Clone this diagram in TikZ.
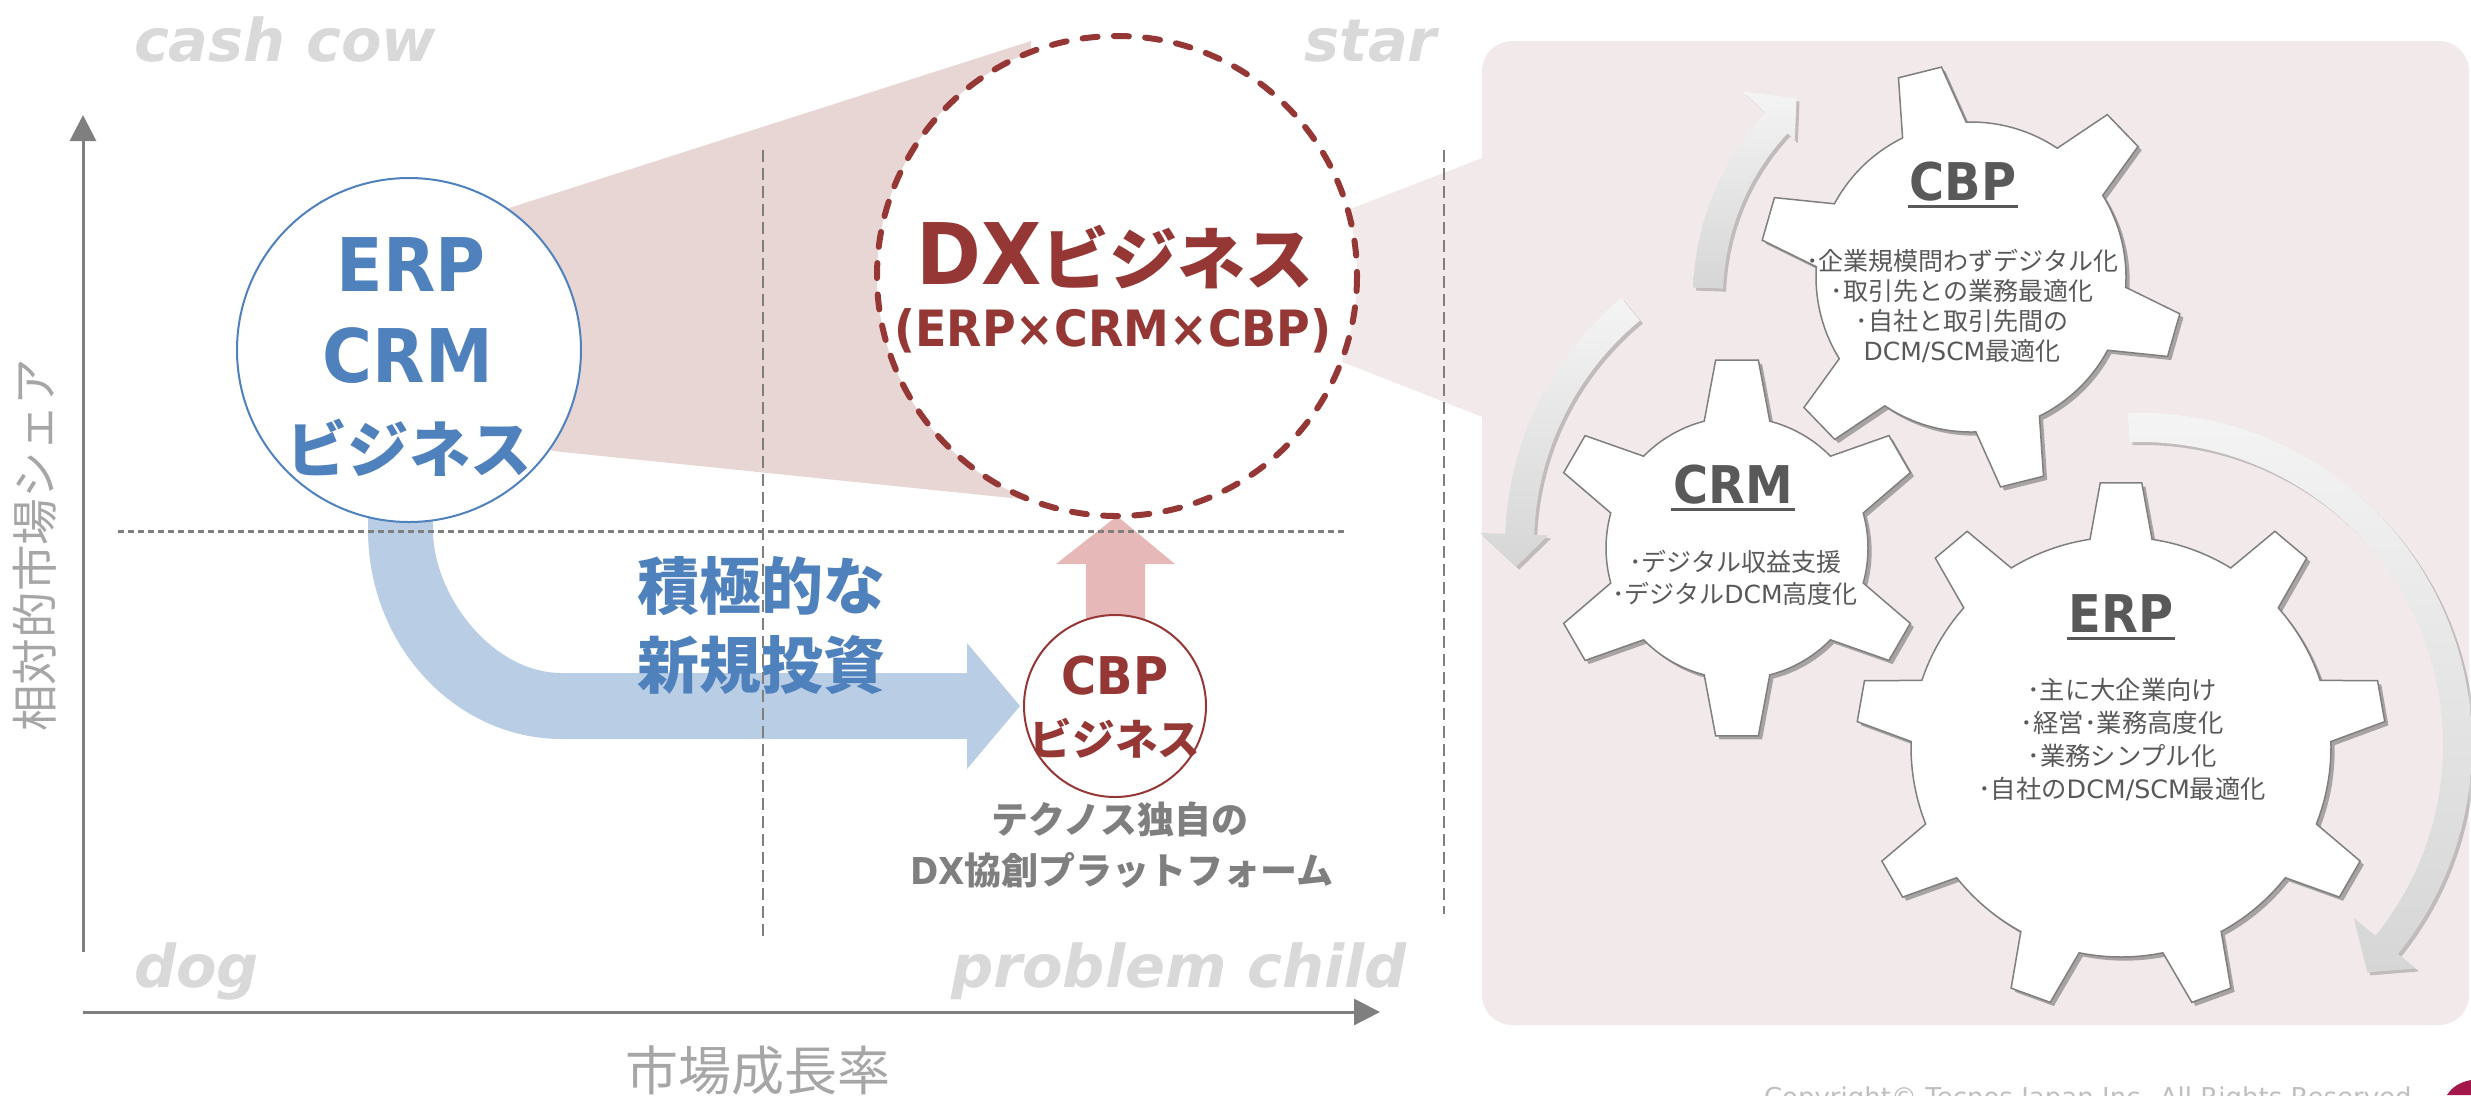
\documentclass[tikz,border=0pt]{standalone}
\usepackage{fontspec}
\setmainfont{DejaVu Sans}
\newfontfamily\dvs{DejaVu Sans}
\newfontfamily\lat[FakeStretch=0.92]{DejaVu Sans}
\newfontfamily\jp{Noto Sans CJK JP}
\usetikzlibrary{calc,arrows.meta,shadows}

\definecolor{axisgray}{HTML}{7F7F7F}
\definecolor{quadgray}{HTML}{D9D9D9}
\definecolor{labelgray}{HTML}{A6A6A6}
\definecolor{ofblue}{HTML}{4F81BD}
\definecolor{bandblue}{HTML}{B9CDE5}
\definecolor{dxred}{HTML}{953735}
\definecolor{uppink}{HTML}{E6B9B8}
\definecolor{funnelpink}{HTML}{E8D6D5}
\definecolor{panelpink}{HTML}{F2EAEA}
\definecolor{geartext}{HTML}{595959}
\definecolor{copygray}{HTML}{BFBFBF}
\definecolor{logored}{HTML}{A3174A}
\definecolor{ringlight}{HTML}{F4F4F4}
\definecolor{ringdark}{HTML}{D6D6D6}

\newcommand\fsz[2]{\fontsize{#1pt}{#2pt}\selectfont}

% gear outline: centre, root radius, tip radius, teeth, first tooth angle,
% half angle of a tooth at the root, half angle at the tip, style
\newcommand\gearshape[9]{%
  \begin{scope}[shift={(#1,#2)}]
    \path[#9] ({#6-#7}:#3)
      \foreach \k [evaluate=\k as \a using {#6+(\k-1)*360/#5}] in {1,...,#5} {
        -- ({\a-#8}:#4) -- ({\a+#8}:#4) -- ({\a+#7}:#3)
        arc[start angle={\a+#7}, end angle={\a+360/#5-#7}, radius=#3]
      } -- cycle;
  \end{scope}}

% curved band arrow: centre, inner r, outer r, start angle, head angle,
% tip angle, head inner r, head outer r
\newcommand\ringarrow[9]{%
  \begin{scope}[shift={(#1,#2)}]
    \path[ringstyle] (#5:#4) arc[start angle=#5, end angle=#6, radius=#4]
      -- (#6:#9) -- (#7:{(#3+#4)/2+4}) -- (#6:#8) -- (#6:#3)
      arc[start angle=#6, end angle=#5, radius=#3] -- cycle;
  \end{scope}}

\begin{document}
\begin{tikzpicture}[x=0.3pt,y=-0.3pt,
  txt/.style={inner sep=0pt, outer sep=0pt},
  quad/.style={txt, font=\dvs\bfseries\itshape\fsz{17.7}{21}, text=quadgray},
  holder/.style={circle, inner sep=0pt, outer sep=0pt},
  erpring/.style={draw=ofblue, line width=0.6pt, fill=white},
  dxring/.style={draw=dxred, line width=1.8pt, dash pattern=on 4.5pt off 4.9pt, line cap=round, fill=white},
  cbpring/.style={draw=dxred, line width=0.6pt, fill=white},
  hgrid/.style={draw=axisgray, line width=0.9pt, dash pattern=on 1.8pt off 1.2pt},
  vgrid/.style={draw=axisgray, line width=0.5pt, dash pattern=on 3.6pt off 1.8pt},
  axis/.style={draw=axisgray, line width=0.9pt, -{Triangle[length=7.8pt,width=7.8pt]}},
  gearstyle/.style={fill=white, draw=axisgray, line width=0.45pt,
    drop shadow={shadow xshift=1.1pt, shadow yshift=-1.1pt, opacity=0.3, fill=black}},
  ringstyle/.style={top color=ringlight, bottom color=ringdark,
    drop shadow={shadow xshift=0.9pt, shadow yshift=-0.9pt, opacity=0.2, fill=black}},
  gtitle/.style={txt, font=\lat\bfseries\fsz{15.6}{18}, text=geartext, anchor=base},
  glist/.style={txt, align=center, text=geartext},
]
\useasboundingbox (0,0) rectangle (2471,1095);
\clip (0,0) rectangle (2471,1095);

% ---- places of the business circles (drawn further down, above the bands)
\node[holder, minimum size=103.2pt] (erp) at (409,350) {};
\node[holder, minimum size=144pt] (dx) at (1117,276) {};
\node[holder, minimum size=54.6pt] (cbp) at (1115,706) {};

% ---- axes end points and grid
\coordinate (yfoot) at (83,952);
\coordinate (ytop) at (83,115);
\coordinate (xfoot) at (83,1012);
\coordinate (xtip) at (1380,1012);
\coordinate (hgl) at (118,531);
\coordinate (hgr) at (1345,531);
\coordinate (vg1t) at (763,150);
\coordinate (vg1b) at (763,937);
\coordinate (vg2t) at (1444,150);
\coordinate (vg2b) at (1444,914);

% panel behind the gears, opening towards the DX circle
\fill[panelpink, rounded corners=9pt] (1482,41) rectangle (2469,1025);
\fill[panelpink] (1200,267) -- (1490,155) -- (1490,420) -- (1200,306) -- cycle;
% funnel from ERP/CRM to DX
\fill[funnelpink] (erp.center) -- (506,209) -- (1031,41) -- (1031,500) -- (553,451) -- cycle;
% investment band from ERP/CRM to CBP
\fill[bandblue] (368,470) -- (368,530) .. controls (368,645) and (455,739) .. (562,739)
  -- (967,739) -- (967,769) -- ($(cbp.west)+(-4,0)$) -- (967,643) -- (967,673) -- (562,673)
  .. controls (491,673) and (433,594) .. (433,530) -- (433,470) -- cycle;
% CBP grows into DX
\fill[uppink] (dx.south) -- +(58,48) -- +(28,48) -- +(28,110) -- +(-31,110) -- +(-31,48) -- +(-61,48) -- cycle;
% quadrant grid
\draw[hgrid] (hgl) -- (hgr);
\draw[vgrid] (vg1t) -- (vg1b);
\draw[vgrid] (vg2t) -- (vg2b);
% axes
\draw[axis] (yfoot) -- (ytop);
\draw[axis] (xfoot) -- (xtip);

% ---- business circles
\path[erpring] (erp.center) circle[radius=172];
\path[dxring] (dx.center) circle[radius=240];
\path[cbpring] (cbp.center) circle[radius=91];

% ---- quadrant labels
\node[quad, anchor=base west] (qcc) at (134,61) {cash cow};
\node[quad, anchor=base east] (qst) at (1437,61) {star};
\node[quad, anchor=base west] (qdog) at (134,987) {dog};
\node[quad, anchor=base east] (qpc) at (1407,987) {problem child};

% ---- axis labels
\node[txt, font=\jp\fsz{15.9}{19}, text=labelgray] (xlab) at (758,1070) {市場成長率};
\node[txt, font=\jp\fsz{14}{17}, text=labelgray, rotate=90] (ylab) at (35,545) {相対的市場シェア};

% ---- circle texts
\node[txt, font=\lat\bfseries\fsz{22.2}{26}, text=ofblue, anchor=base] (erpl1) at (411,291) {ERP};
\node[txt, font=\lat\bfseries\fsz{22.2}{26}, text=ofblue, anchor=base] (erpl2) at (408,382) {CRM};
\node[txt, font=\jp\bfseries\fsz{18.4}{21}, text=ofblue, anchor=base] (erpl3) at (409,472) {ビジネス};

\node[txt, text=dxred, anchor=base] (dxl1) at (1115,284)
  {{\lat\bfseries\fsz{25.5}{30}DX}{\jp\bfseries\fsz{20.4}{24}ビジネス}};
\node[txt, font=\lat\bfseries\fsz{15}{18}, text=dxred, anchor=base] (dxl2) at (1113,346) {(ERP×CRM×CBP)};

\node[txt, font=\jp\bfseries\fsz{18.6}{22}, text=ofblue, anchor=base west] (inv1) at (637,609) {積極的な};
\node[txt, font=\jp\bfseries\fsz{18.6}{22}, text=ofblue, anchor=base west] (inv2) at (637,688) {新規投資};

\node[txt, font=\lat\bfseries\fsz{15.6}{18}, text=dxred, anchor=base] (cbpl1) at (1115,694) {CBP};
\node[txt, font=\jp\bfseries\fsz{12.8}{15}, text=dxred, anchor=base] (cbpl2) at (1115,755) {ビジネス};
\node[txt, font=\jp\bfseries\fsz{11.1}{13}, text=axisgray, anchor=base] (plat1) at (1120,833) {テクノス独自の};
\node[txt, font=\jp\bfseries\fsz{11.1}{13}, text=axisgray, anchor=base] (plat2) at (1122,884) {{\lat DX}協創プラットフォーム};

% ---- cycle arrows around the gears
\ringarrow{1963}{297}{240}{270}{182}{223}{230}{230}{301}
\ringarrow{1825}{545}{291}{320}{230.5}{182}{176}{277}{345}
\ringarrow{2140}{745}{303}{332}{268}{399}{405}{275}{355}

% ---- gears
\gearshape{1971}{277}{155}{212}{6}{-104}{12.2}{6}{gearstyle}
\gearshape{1737}{548}{131}{189}{6}{30}{14.5}{6.5}{gearstyle}
\gearshape{2121}{747}{210}{265}{9}{270}{8.5}{4.5}{gearstyle}

% ---- gear texts
\node[gtitle] (cbpt) at (1963,200) {CBP};
\draw[geartext, line width=0.9pt] ($(cbpt.base west)+(-2,6)$) -- ($(cbpt.base east)+(2,6)$);
\node[glist, font=\jp\fsz{7.5}{9}] (cbpb) at (1962,306)
  {･企業規模問わずデジタル化\\･取引先との業務最適化\\･自社と取引先間の\\{\dvs DCM/SCM}最適化};

\node[gtitle] (crmt) at (1733,503) {CRM};
\draw[geartext, line width=0.9pt] ($(crmt.base west)+(-2,6)$) -- ($(crmt.base east)+(2,6)$);
\node[glist, font=\jp\fsz{7.5}{9.6}] (crmb) at (1735,578)
  {･デジタル収益支援\\･デジタル{\dvs DCM}高度化};

\node[gtitle] (erpt) at (2121,632) {ERP};
\draw[geartext, line width=0.9pt] ($(erpt.base west)+(-2,6)$) -- ($(erpt.base east)+(2,6)$);
\node[glist, font=\jp\fsz{7.6}{9.9}] (erpb) at (2122,739)
  {･主に大企業向け\\･経営･業務高度化\\･業務シンプル化\\･自社の{\dvs DCM/SCM}最適化};

% ---- footer
\node[txt, anchor=north west, font=\dvs\fsz{7.8}{9}, text=copygray] (copy) at (1764,1087)
  {Copyright© Tecnos Japan Inc. All Rights Reserved};
\fill[logored] (2447,1095) .. controls (2452,1087) and (2460,1082) .. (2471,1080) -- (2471,1095) -- cycle;
\end{tikzpicture}
\end{document}
